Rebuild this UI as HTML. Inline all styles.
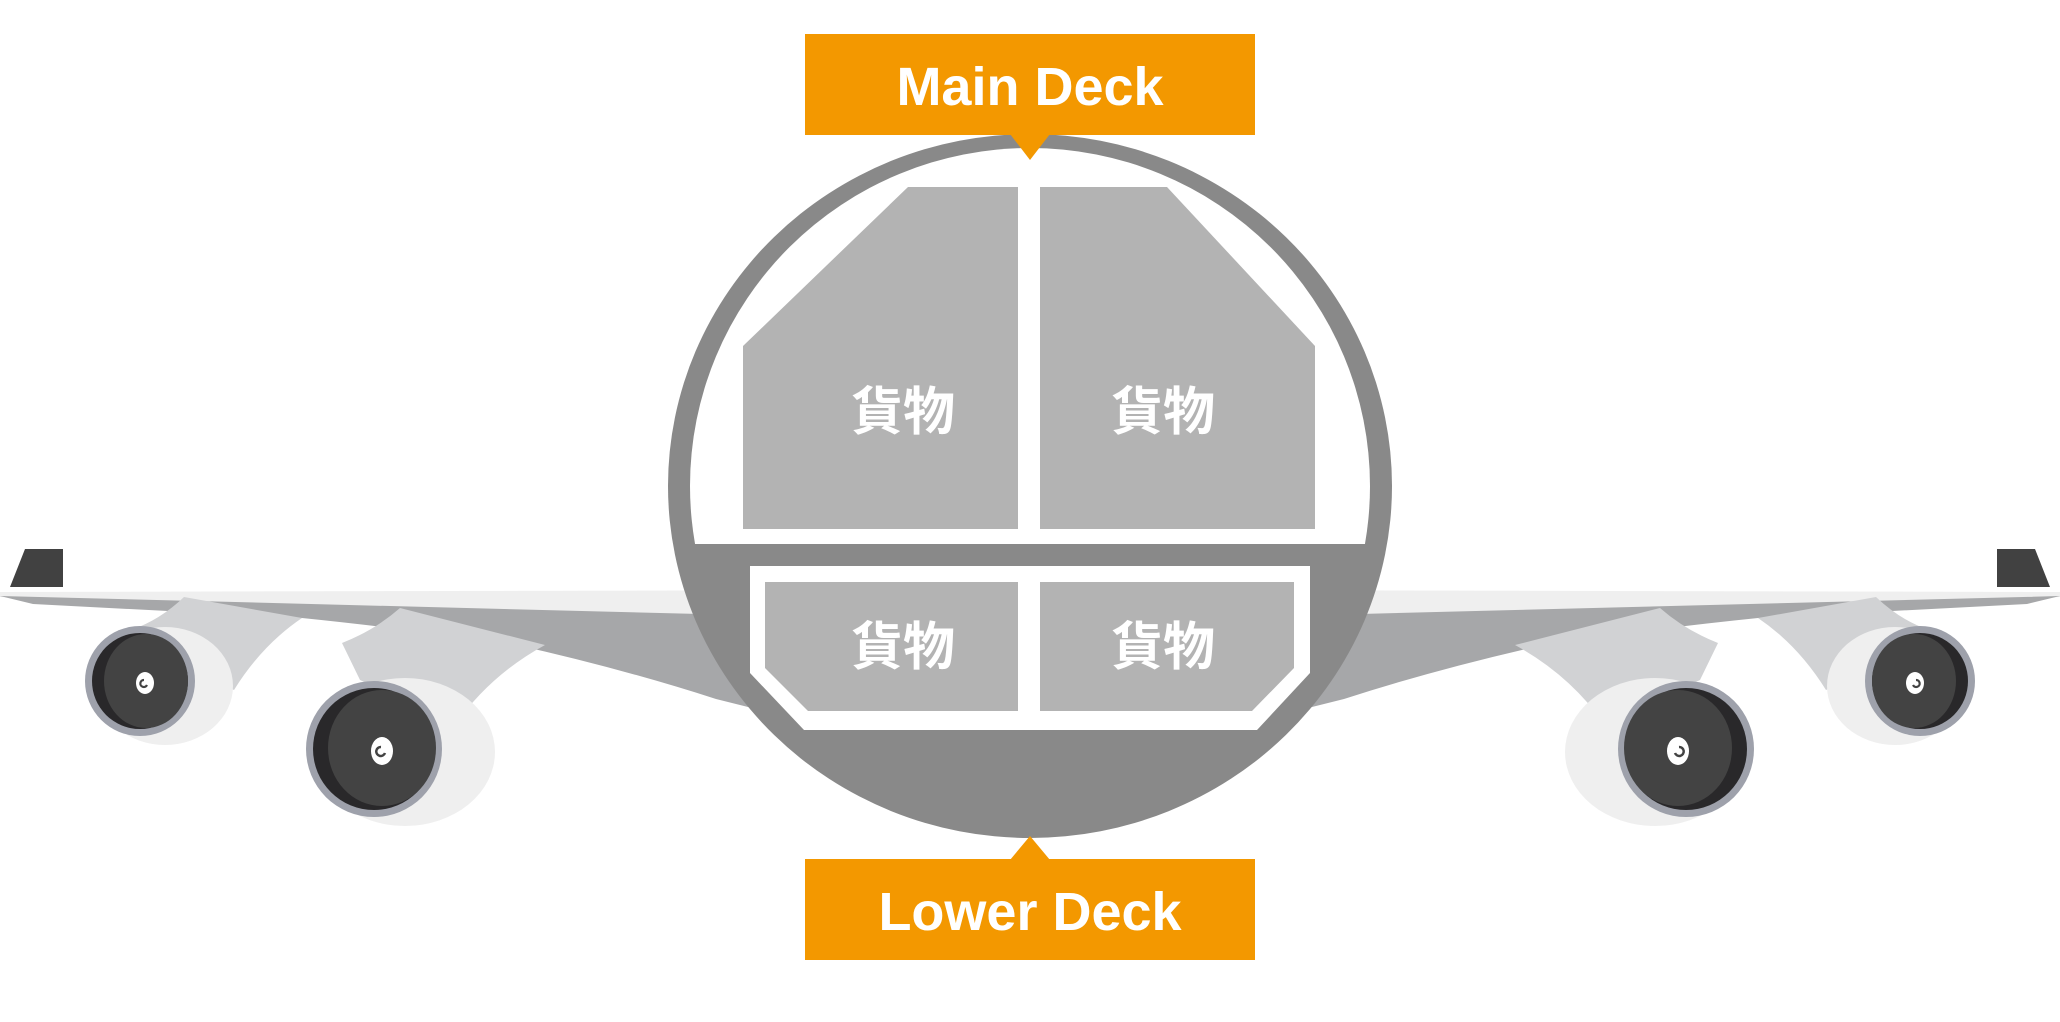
<!DOCTYPE html>
<html><head><meta charset="utf-8"><style>html,body{margin:0;padding:0;background:#fff;width:2060px;height:1022px;overflow:hidden}</style></head>
<body>
<svg width="2060" height="1022" viewBox="0 0 2060 1022" xmlns="http://www.w3.org/2000/svg">
<defs>
<clipPath id="up"><rect x="0" y="0" width="2060" height="544"/></clipPath>
<g id="wing">
  <polygon points="10,587 25,549 63,549 63,587" fill="#414141"/>
  <polygon points="0,592 900,590 900,630 0,597" fill="#efefef"/>
  <path d="M0,596 L700,614 L900,622 L900,745 L716,699 Q620,668 512,644 Q400,628 302,618 L33,604 Z" fill="#a6a7a9"/>
  <path d="M184,597 L302,618 Q262,645 234,690 L150,650 L131,630 Q160,620 184,597 Z" fill="#d1d2d4"/>
  <path d="M400,608 L545,645 Q490,675 455,725 L360,680 L342,643 Q375,630 400,608 Z" fill="#d1d2d4"/>
  <ellipse cx="165" cy="686" rx="68" ry="59" fill="#efefef"/>
  <circle cx="140" cy="681" r="55" fill="#9ea1ab"/>
  <circle cx="140" cy="681" r="48" fill="#29282a"/>
  <ellipse cx="146" cy="681" rx="42" ry="47" fill="#434343"/>
  <ellipse cx="145" cy="683" rx="9" ry="11" fill="#fff"/>
  <path d="M147 685 a3.5 3.5 0 1 1 -3 -5" stroke="#434343" stroke-width="2.2" fill="none"/>
  <ellipse cx="405" cy="752" rx="90" ry="74" fill="#efefef"/>
  <circle cx="374" cy="749" r="68" fill="#9ea1ab"/>
  <circle cx="374" cy="749" r="61" fill="#29282a"/>
  <ellipse cx="382" cy="748" rx="54" ry="58" fill="#434343"/>
  <ellipse cx="382" cy="751" rx="11" ry="14" fill="#fff"/>
  <path d="M385 753 a4.5 4.5 0 1 1 -4 -6" stroke="#434343" stroke-width="2.5" fill="none"/>
</g>
</defs>
<use href="#wing"/>
<use href="#wing" transform="translate(2060,0) scale(-1,1)"/>
<ellipse cx="1030" cy="486" rx="362" ry="352" fill="#898989"/>
<ellipse cx="1030" cy="486" rx="340" ry="338" fill="#fff" clip-path="url(#up)"/>
<polygon points="743,346 908,187 1018,187 1018,529 743,529" fill="#b3b3b3"/>
<polygon points="1040,187 1167,187 1315,346 1315,529 1040,529" fill="#b3b3b3"/>
<polygon points="750,566 1310,566 1310,673 1257,730 804,730 750,673" fill="#fff"/>
<polygon points="765,582 1018,582 1018,711 808,711 765,668" fill="#b3b3b3"/>
<polygon points="1040,582 1294,582 1294,668 1252,711 1040,711" fill="#b3b3b3"/>
<g font-family="'Liberation Sans','Noto Sans CJK TC',sans-serif" font-weight="bold" fill="#fff" font-size="52" text-anchor="middle">
<text x="903" y="430">貨物</text>
<text x="1163" y="430">貨物</text>
<text x="903" y="665">貨物</text>
<text x="1163" y="665">貨物</text>
</g>
<rect x="805" y="34" width="450" height="101" fill="#f39800"/>
<polygon points="1010,134 1050,134 1030,160" fill="#f39800"/>
<rect x="805" y="859" width="450" height="101" fill="#f39800"/>
<polygon points="1010,860 1050,860 1030,836" fill="#f39800"/>
<g font-family="'Liberation Sans',sans-serif" font-weight="bold" fill="#fff" font-size="54" text-anchor="middle">
<text x="1030" y="105">Main Deck</text>
<text x="1030" y="930">Lower Deck</text>
</g>
</svg>
</body></html>
